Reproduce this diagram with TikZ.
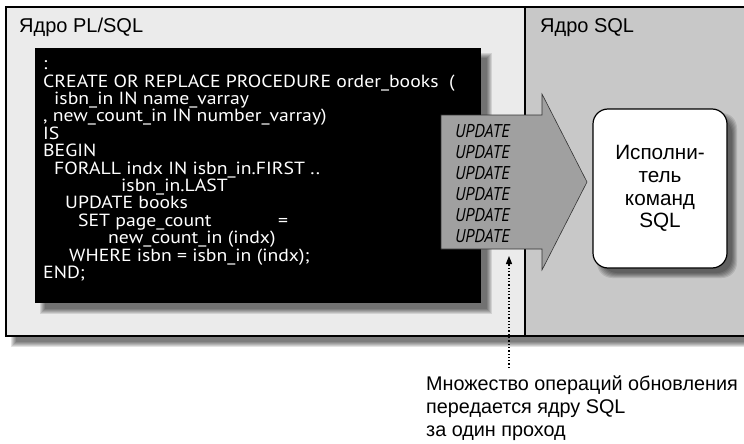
\documentclass[tikz,border=0pt]{standalone}
\usepackage{fontspec}
\setmainfont{Liberation Sans}
\newfontfamily\codefont[FakeStretch=1.12]{PT Sans}
\newfontfamily\updfont{PT Sans}
\usetikzlibrary{arrows.meta}
\definecolor{leftbg}{HTML}{EBEBEB}
\definecolor{rightbg}{HTML}{C8C8C8}
\definecolor{arrowbg}{HTML}{A0A0A0}
\newcommand\softshadow[6]{%
  \foreach \i in {1,...,6}{%
    \fill[black,opacity=0.11,rounded corners=#6] ({#1+#5+3-\i},{#2+#5+3-\i}) rectangle ({#3+#5-3+\i},{#4+#5-3+\i});
  }}
\tikzset{
  lbl/.style={anchor=base west, inner sep=0pt, font=\fontsize{20}{20}\selectfont},
  code/.style={anchor=base west, inner sep=0pt, text=white, font=\codefont\fontsize{17.6}{17.6}\selectfont},
  upd/.style={anchor=base west, inner sep=0pt, text=black, font=\updfont\itshape\fontsize{18.5}{18.5}\selectfont},
  framel/.style={line width=1.6pt},
  execbox/.style={draw=black, line width=1.2pt, fill=white, rounded corners=15pt, minimum width=134pt, minimum height=159pt, align=center, font=\fontsize{20.7}{22.7}\selectfont},
  bigarrow/.style={fill=arrowbg, draw=black!80, line width=0.6pt},
  dotarrow/.style={line width=1.2pt, dash pattern=on 1.3pt off 2pt, -{Triangle[length=8pt,width=6pt]}},
  caption/.style={anchor=base west, inner sep=0pt, align=left, font=\fontsize{19.8}{23}\selectfont}
}
\begin{document}
\begin{tikzpicture}[x=1pt,y=-1pt]
\useasboundingbox (0,0) rectangle (744,444);
\clip (0,0) rectangle (744,444);
\fill[white] (0,0) rectangle (744,444);
% outer frame
\softshadow{6}{7}{760}{336}{8}{0pt}
\fill[leftbg] (6,7) rectangle (525,336);
\fill[rightbg] (525,7) rectangle (760,336);
\draw[framel] (6,7) rectangle (760,336);
\draw[framel] (525,7) -- (525,336);
\node[lbl] (plsql) at (19,33) {Ядро PL/SQL};
\node[lbl] (sqlcore) at (540,33) {Ядро SQL};
% code box
\softshadow{35}{48}{481}{303}{8}{0pt}
\fill[black] (35,48) rectangle (481,303);
\node[code] (c0) at (43,69.6) {:};
\node[code] (c1) at (43,87) {CREATE OR REPLACE PROCEDURE order\_books\ \ (};
\node[code] (c2) at (54,104.4) {isbn\_in IN name\_varray};
\node[code] (c3) at (43,121.8) {, new\_count\_in IN number\_varray)};
\node[code] (c4) at (43,139.2) {IS};
\node[code] (c5) at (43,156.6) {BEGIN};
\node[code] (c6) at (54,174) {FORALL indx IN isbn\_in.FIRST ..};
\node[code] (c7) at (121,191.4) {isbn\_in.LAST};
\node[code] (c8) at (65,208.8) {UPDATE books};
\node[code] (c9) at (78,226.2) {SET page\_count};
\node[code] (c9b) at (278,226.2) {=};
\node[code] (c10) at (108,243.6) {new\_count\_in (indx)};
\node[code] (c11) at (69,261) {WHERE isbn = isbn\_in (indx);};
\node[code] (c12) at (43,278.4) {END;};
% executor box
\softshadow{593}{109}{727}{268}{7}{15pt}
\node[execbox] (exec) at (660,188.5) {Исполни-\\тель\\команд\\SQL};
% big arrow
\filldraw[bigarrow] (441,115) -- (542,115) -- (542,94) -- (587,182) -- (542,270) -- (542,249) -- (441,249) -- cycle;
\foreach \k in {0,...,5}{
  \node[upd] (u\k) at (455,{137+21*\k}) {\scalebox{0.9}[1]{UPDATE}};
}
\coordinate (dotend) at (509,256);
\coordinate (dotstart) at (509,368);
\node[caption] (cap) at (426,436) {Множество операций обновления\\передается ядру SQL\\за один проход};
\draw[dotarrow] (dotstart) -- (dotend);
\end{tikzpicture}
\end{document}
